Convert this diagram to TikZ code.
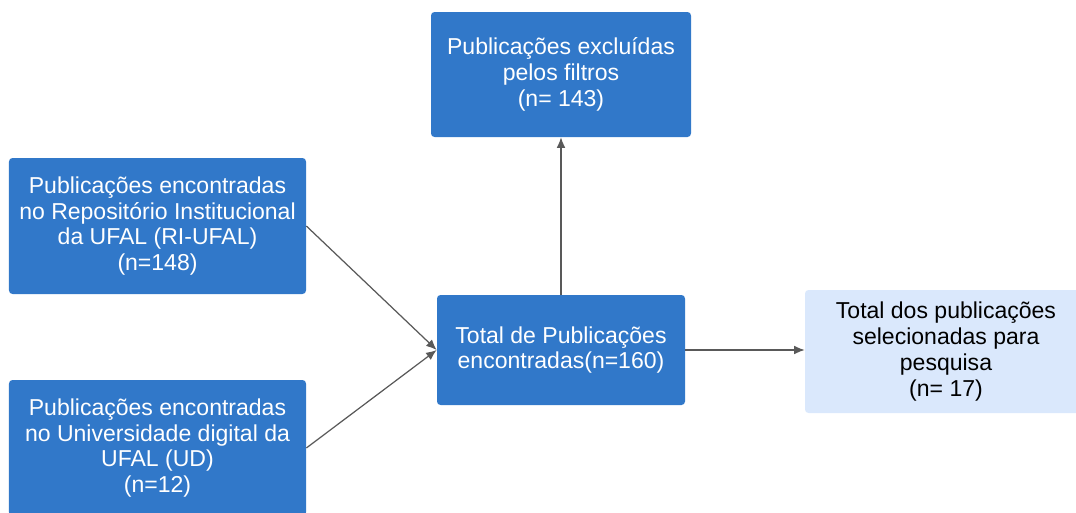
\documentclass[tikz,border=0pt]{standalone}
\usepackage{xcolor}
\usepackage{fontspec}
\setmainfont{Liberation Sans}
\usepackage{tikz}
\usetikzlibrary{arrows.meta}

\definecolor{boxblue}{HTML}{3178C9}
\definecolor{boxlight}{HTML}{DAE8FC}
\definecolor{linegray}{HTML}{595959}

\begin{document}
\begin{tikzpicture}[%
% common options for the blue blocks:
block/.style = {rectangle, fill=boxblue, text=white, align=center,
            rounded corners=2pt, inner sep=0, font=\fontsize{13.1pt}{14.7pt}\selectfont},
% options for the result block:
light/.style = {block, fill=boxlight, text=black},
% arrows
link/.style = {draw=linegray, line width=0.7pt, -{Latex[length=6pt,width=5pt]}}]
\useasboundingbox (0,0) rectangle (21.52,-10.24);

% sources
\node[block, minimum width=5.94cm, minimum height=2.72cm] (A1) at (3.15,-4.52)
    {Publicações encontradas\\no Repositório Institucional\\da UFAL (RI-UFAL)\\(n=148)};
\node[block, minimum width=5.94cm, minimum height=2.72cm] (A2) at (3.15,-8.96)
    {Publicações encontradas\\no Universidade digital da\\UFAL (UD)\\(n=12)};

% total
\node[block, minimum width=4.96cm, minimum height=2.2cm] (B0) at (11.22,-7.0)
    {Total de Publicações\\encontradas(n=160)};

% excluded
\node[block, minimum width=5.2cm, minimum height=2.5cm] (C0) at (11.22,-1.49)
    {Publicações excluídas\\pelos filtros\\(n= 143)};

% selected
\node[light, minimum width=5.64cm, minimum height=2.46cm] (D0) at (18.92,-7.03)
    {Total dos publicações\\selecionadas para\\pesquisa\\(n= 17)};

\draw[link] (A1.east) -- (B0.west);
\draw[link] (A2.east) -- (B0.west);
\draw[link] (B0.north) -- (C0.south);
\draw[link] (B0.east) -- (B0.east -| D0.west);
\end{tikzpicture}
\end{document}
